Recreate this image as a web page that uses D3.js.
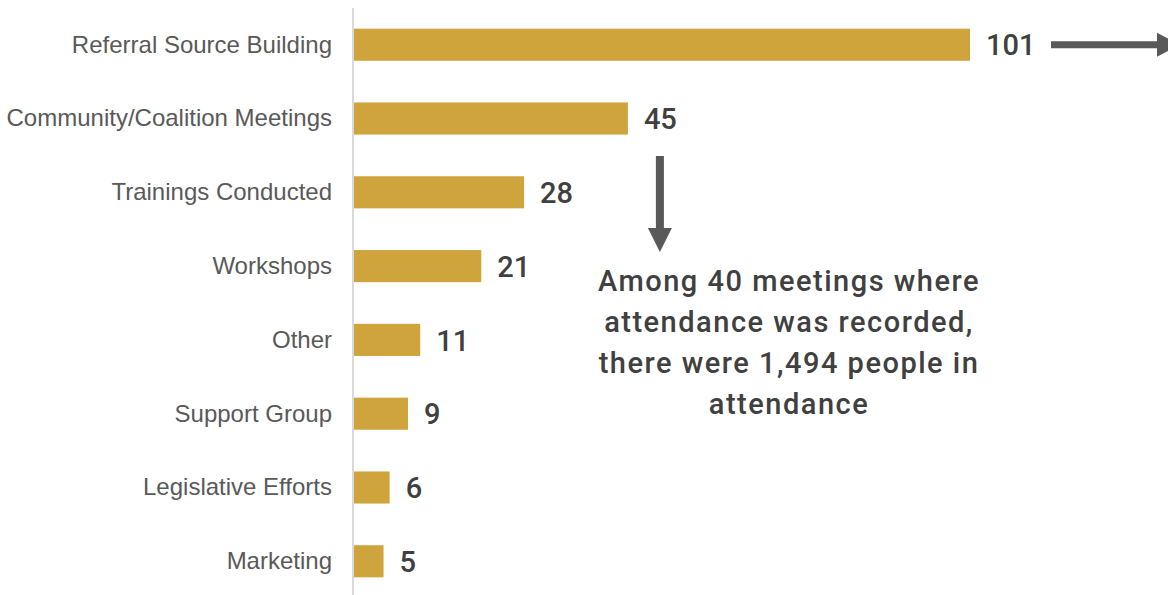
<!DOCTYPE html>
<html>
<head>
<meta charset="utf-8">
<script src="https://cdn.jsdelivr.net/npm/d3@7"></script>
<style>
  html, body { margin: 0; padding: 0; background: #ffffff; }
  svg { display: block; }
</style>
</head>
<body>
<svg id="chart" width="1168" height="595"></svg>
<script>
// Activity categories and counts
const categories = [
  "Referral Source Building",
  "Community/Coalition Meetings",
  "Trainings Conducted",
  "Workshops",
  "Other",
  "Support Group",
  "Legislative Efforts",
  "Marketing"
];
const counts = [101, 45, 28, 21, 11, 9, 6, 5];

const noteLines = [
  "Among 40 meetings where",
  "attendance was recorded,",
  "there were 1,494 people in",
  "attendance"
];

const data = categories.map((c, i) => ({ category: c, value: counts[i] }));

const svg = d3.select("#chart");
const W = 1168, H = 595;

const x = d3.scaleLinear().domain([0, 101]).range([353, 970]);
const y = d3.scaleBand().domain(categories).range([8, 598]).paddingInner(0.565).paddingOuter(0.28);

const barColor = "#D0A43D";
const darkText = "#404040";
const arrowColor = "#595959";

// Bars
svg.append("g").selectAll("rect")
  .data(data)
  .join("rect")
  .attr("x", x(0))
  .attr("y", d => y(d.category))
  .attr("width", d => x(d.value) - x(0))
  .attr("height", y.bandwidth())
  .attr("fill", barColor);

// Category axis line
svg.append("line")
  .attr("x1", x(0)).attr("x2", x(0))
  .attr("y1", 8).attr("y2", H)
  .attr("stroke", "#d9d9d9")
  .attr("stroke-width", 2);

// Category labels
svg.append("g").selectAll("text")
  .data(data)
  .join("text")
  .attr("x", 332)
  .attr("y", d => y(d.category) + y.bandwidth() / 2)
  .attr("dy", "0.33em")
  .attr("text-anchor", "end")
  .attr("font-family", "Liberation Sans, Arial, sans-serif")
  .attr("font-size", 24)
  .attr("fill", "#595959")
  .text(d => d.category);

// Value labels
svg.append("g").selectAll("text")
  .data(data)
  .join("text")
  .attr("x", d => x(d.value) + 16)
  .attr("y", d => y(d.category) + y.bandwidth() / 2)
  .attr("dy", "0.37em")
  .attr("font-family", "Roboto, sans-serif")
  .attr("font-weight", 500)
  .attr("font-size", 29)
  .attr("fill", darkText)
  .text(d => d.value);

// Horizontal arrow after the largest bar (runs off the right edge)
const topY = y(categories[0]) + y.bandwidth() / 2;
const hx0 = x(101) + 81, hHead = 1157, hTip = 1180;
svg.append("path")
  .attr("d", `M${hx0},${topY - 3.5} L${hHead},${topY - 3.5} L${hHead},${topY - 12} L${hTip},${topY}
              L${hHead},${topY + 12} L${hHead},${topY + 3.5} L${hx0},${topY + 3.5} Z`)
  .attr("fill", arrowColor);

// Vertical arrow under the meetings bar
const vx = x(45) + 32;
const vTop = 156, vHead = 228, vTip = 252;
svg.append("path")
  .attr("d", `M${vx - 4},${vTop} L${vx + 4},${vTop} L${vx + 4},${vHead} L${vx + 12},${vHead} L${vx},${vTip}
              L${vx - 12},${vHead} L${vx - 4},${vHead} Z`)
  .attr("fill", arrowColor);

// Attendance note
const note = svg.append("text")
  .attr("x", 789)
  .attr("y", 291)
  .attr("text-anchor", "middle")
  .attr("font-family", "Roboto, sans-serif")
  .attr("font-weight", 500)
  .attr("font-size", 29)
  .attr("letter-spacing", 1.5)
  .attr("fill", darkText);
note.selectAll("tspan")
  .data(noteLines)
  .join("tspan")
  .attr("x", 789)
  .attr("dy", (d, i) => i === 0 ? 0 : 41)
  .text(d => d);
</script>
</body>
</html>
